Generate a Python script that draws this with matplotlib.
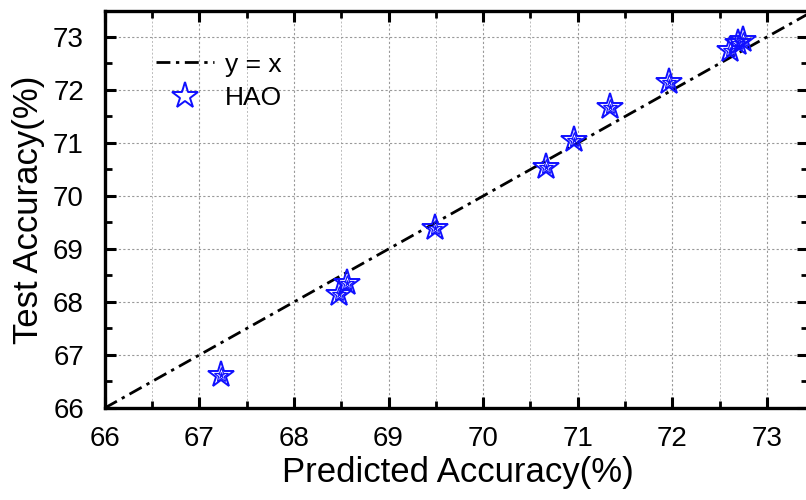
import matplotlib
matplotlib.use("Agg")
import matplotlib.pyplot as plt
from matplotlib.ticker import MultipleLocator

plt.rcParams['font.family'] = ['Liberation Sans', 'DejaVu Sans']

pred = [67.23, 68.48, 68.56, 69.49, 70.66, 70.96, 71.34, 71.96, 72.61, 72.69, 72.75]
test = [66.62, 68.15, 68.36, 69.39, 70.55, 71.06, 71.68, 72.15, 72.75, 72.88, 72.95]
line_x = [66, 73.5]
xticks = [66, 67, 68, 69, 70, 71, 72, 73]
yticks = [66, 67, 68, 69, 70, 71, 72, 73]

fig = plt.figure(figsize=(8.06, 5.0), dpi=100)
ax = fig.add_axes([0.130, 0.184, 0.872, 0.794])

ax.plot(line_x, line_x, color='black', lw=2.0, linestyle=(0, (5, 2, 1.2, 2)), label='y = x', zorder=3)
ax.plot(pred, test, linestyle='none', marker='*', markersize=20, markerfacecolor='none',
        markeredgecolor='#1010ff', markeredgewidth=1.4, label='HAO', zorder=4)
ax.plot(pred, test, linestyle='none', marker='*', markersize=11, markerfacecolor='none',
        markeredgecolor='#1010ff', markeredgewidth=0.9, zorder=4)
ax.plot(pred, test, linestyle='none', marker='*', markersize=5, markerfacecolor='#1010ff',
        markeredgecolor='#1010ff', markeredgewidth=0.5, zorder=4)

ax.set_xlim(66, 73.43)
ax.set_ylim(66, 73.49)
ax.set_xticks(xticks)
ax.set_yticks(yticks)
ax.xaxis.set_minor_locator(MultipleLocator(0.5))
ax.yaxis.set_minor_locator(MultipleLocator(0.5))
ax.tick_params(which='major', direction='in', length=8, width=2.2, top=True, right=True,
               labelsize=20)
ax.tick_params(axis='x', which='major', pad=13)
ax.tick_params(axis='y', which='major', pad=15)
ax.tick_params(which='minor', direction='in', length=5, width=2.0, top=True, right=True)
for s in ax.spines.values():
    s.set_linewidth(2.4)

ax.grid(which='major', axis='both', color='#999999', linestyle=(0, (2, 2)), linewidth=0.8)
ax.grid(which='minor', axis='x', color='#bbbbbb', linestyle=(0, (2, 2)), linewidth=0.7)
ax.set_axisbelow(True)

ax.set_xlabel('Predicted Accuracy(%)', fontsize=25)
ax.set_ylabel('Test Accuracy(%)', fontsize=25)
ax.xaxis.set_label_coords(0.503, -0.121)
ax.yaxis.set_label_coords(-0.0853, 0.5)

ax.legend(loc='upper left', bbox_to_anchor=(0.039, 0.955), frameon=False, fontsize=19,
          handlelength=2.2, handletextpad=0.4, labelspacing=0.35, numpoints=1)

fig.savefig('out.png', dpi=100)
